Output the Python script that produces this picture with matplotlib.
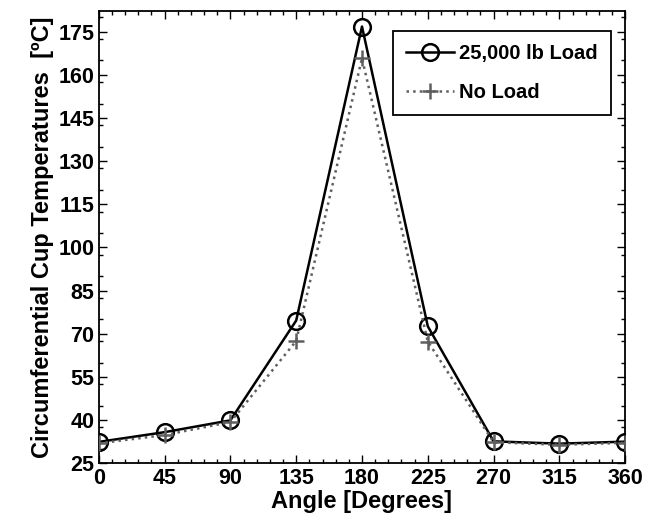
import matplotlib.pyplot as plt
from matplotlib.ticker import MultipleLocator

plt.rcParams["font.family"] = "Liberation Sans"
plt.rcParams["font.weight"] = "bold"

angle = [0, 45, 90, 135, 180, 225, 270, 315, 360]
temp_load = [32.4, 35.8, 39.9, 74.6, 176.8, 72.6, 32.6, 31.8, 32.5]
temp_noload = [31.9, 34.8, 39.3, 67.5, 165.8, 67.3, 32.3, 31.4, 32.1]

fig = plt.figure(figsize=(6.54, 5.24), dpi=100)
ax = fig.add_axes([0.151, 0.116, 0.805, 0.863])

ax.plot(angle, temp_load, color="black", lw=1.8, marker="o", ms=12,
        mfc="none", mew=1.8, label="25,000 lb Load", zorder=3)
ax.plot(angle, temp_noload, color="#5f5f5f", lw=1.8, ls=":", marker="+",
        ms=12, mew=1.8, label="No Load", zorder=4)

ax.set_xlim(0, 360)
ax.set_ylim(25, 182.2)
ax.set_xticks(range(0, 361, 45))
ax.set_yticks(range(25, 176, 15))
ax.xaxis.set_minor_locator(MultipleLocator(9))
ax.yaxis.set_minor_locator(MultipleLocator(7.5))
ax.tick_params(which="both", direction="in", top=True, right=True,
               labelsize=15.5, width=1)
ax.tick_params(which="major", length=6)
ax.tick_params(which="minor", length=3)
ax.tick_params(axis="y", pad=3)
for s in ax.spines.values():
    s.set_linewidth(1.3)

ax.set_xlabel("Angle [Degrees]", fontsize=17, fontweight="bold", labelpad=1)
ax.set_ylabel("Circumferential Cup Temperatures  [\u00baC]", fontsize=17,
              fontweight="bold", labelpad=3)

leg = ax.legend(loc="upper right", bbox_to_anchor=(0.973, 0.956), fontsize=14.5,
                fancybox=False, edgecolor="black", framealpha=1,
                handlelength=2.4, borderpad=0.65, labelspacing=1.0,
                handletextpad=0.25, borderaxespad=0)
leg.get_frame().set_linewidth(1.3)

fig.savefig("out.png", dpi=100)
